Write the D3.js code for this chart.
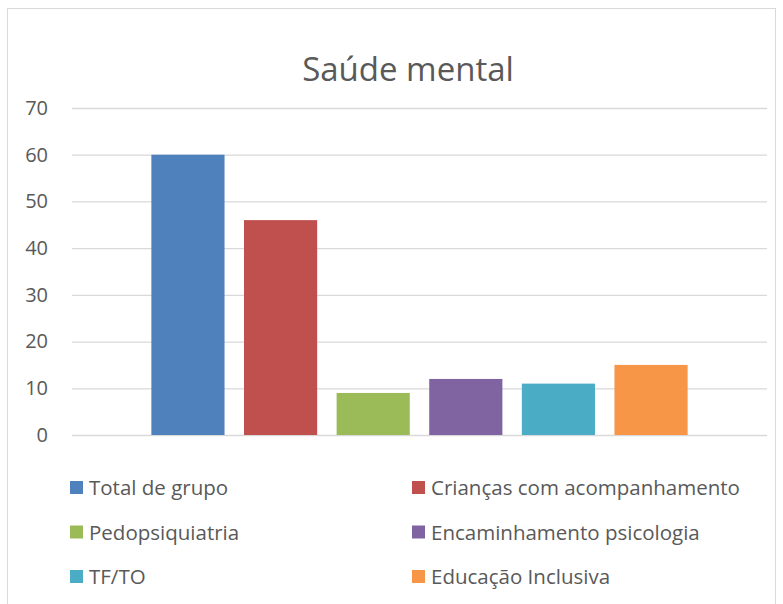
<!DOCTYPE html>
<meta charset="utf-8">
<style>
  body { margin: 0; background: #fff; }
  svg { display: block; font-family: "Open Sans", Lato, "Liberation Sans", sans-serif; }
</style>
<body>
<script src="https://d3js.org/d3.v7.min.js"></script>
<script>
// chart data
var series = ["Total de grupo", "Crianças com acompanhamento", "Pedopsiquiatria",
              "Encaminhamento psicologia", "TF/TO", "Educação Inclusiva"];
var values = [60, 46, 9, 12, 11, 15];
var colors = ["#4F81BD", "#C0504D", "#9BBB59", "#8064A2", "#4BACC6", "#F79646"];
var yTicks = [0, 10, 20, 30, 40, 50, 60, 70];

var W = 783, H = 604;
var plot = {left: 72, right: 767, top: 108, bottom: 435};

var svg = d3.select("body").append("svg")
    .attr("width", W)
    .attr("height", H);

// chart border
svg.append("rect")
    .attr("x", 7.5).attr("y", 8.5)
    .attr("width", 768).attr("height", 620)
    .attr("fill", "none")
    .attr("stroke", "#d9d9d9");

// title
svg.append("text")
    .attr("x", 408).attr("y", 81)
    .attr("text-anchor", "middle")
    .style("font-size", "33px")
    .style("fill", "#595959")
    .text("Saúde mental");

var y = d3.scaleLinear().domain([0, 70]).range([plot.bottom, plot.top]);
var x = d3.scaleBand().domain(series)
    .range([plot.left, plot.right])
    .paddingInner(0.21)
    .paddingOuter(0.857);

// gridlines + y labels
svg.append("g")
    .attr("transform", "translate(" + plot.left + ",0)")
    .call(d3.axisLeft(y).tickValues(yTicks).tickSize(-(plot.right - plot.left)).tickPadding(24))
    .call(function(g) {
        g.select(".domain").remove();
        g.selectAll(".tick line").attr("stroke", "#d9d9d9").attr("stroke-width", 1.3);
        g.selectAll(".tick text")
            .style("font-size", "20px")
            .style("font-family", "'Open Sans', Lato, sans-serif")
            .attr("fill", "#595959");
    });

// bars
svg.append("g").selectAll("rect")
    .data(series)
    .enter().append("rect")
    .attr("x", function(d) { return x(d); })
    .attr("width", x.bandwidth())
    .attr("y", function(d, i) { return y(values[i]); })
    .attr("height", function(d, i) { return y(0) - y(values[i]); })
    .attr("fill", function(d, i) { return colors[i]; });

// legend: two columns, three rows
var legend = svg.append("g").selectAll("g")
    .data(series)
    .enter().append("g")
    .attr("transform", function(d, i) {
        var col = i % 2, row = Math.floor(i / 2);
        return "translate(" + (70 + col * 342) + "," + (488 + row * 44.5) + ")";
    });

legend.append("rect")
    .attr("x", 0).attr("y", -7)
    .attr("width", 13).attr("height", 13)
    .attr("fill", function(d, i) { return colors[i]; });

legend.append("text")
    .attr("x", 19).attr("y", 7)
    .style("font-size", "20.5px")
    .style("fill", "#595959")
    .text(function(d) { return d; });
</script>
</body>
